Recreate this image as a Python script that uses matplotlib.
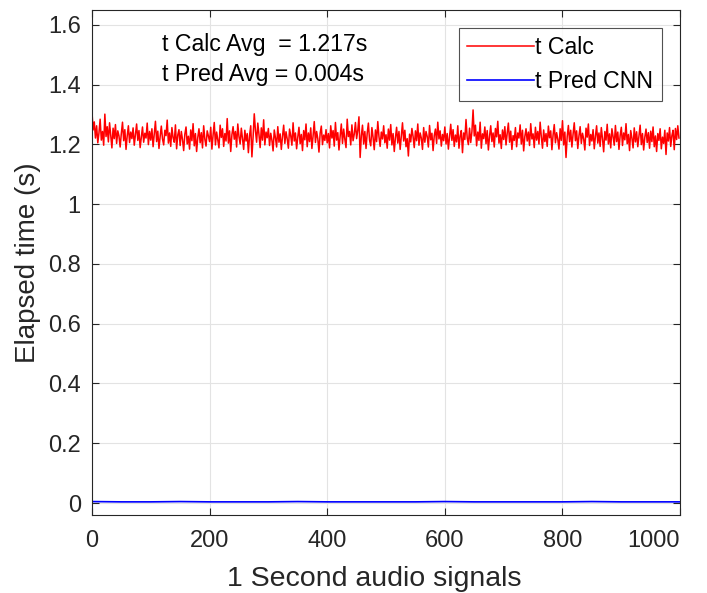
import numpy as np
import matplotlib
matplotlib.use('Agg')
import matplotlib.pyplot as plt

plt.rcParams['font.family'] = ['Liberation Sans', 'DejaVu Sans']

# t Calc (s), one reading every 2 signals
t_calc = [
    1.312, 1.248, 1.275, 1.221, 1.262, 1.205, 1.238, 1.284, 1.214, 1.243, 1.197, 1.301, 1.226, 1.259, 1.208, 1.272, 1.231, 1.188, 1.254, 1.219, 1.266, 1.203, 1.245, 1.228, 1.191,
    1.236, 1.274, 1.212, 1.249, 1.183, 1.228, 1.262, 1.206, 1.241, 1.219, 1.255, 1.197, 1.232, 1.268, 1.213, 1.246, 1.189, 1.225, 1.258, 1.207, 1.237, 1.221, 1.271, 1.199, 1.243,
    1.214, 1.252, 1.192, 1.233, 1.277, 1.209, 1.244, 1.186, 1.226, 1.261, 1.218, 1.198, 1.247, 1.229, 1.281, 1.204, 1.238, 1.193, 1.256, 1.222, 1.207, 1.265, 1.185, 1.231, 1.249,
    1.196, 1.243, 1.216, 1.179, 1.234, 1.258, 1.201, 1.227, 1.184, 1.248, 1.212, 1.269, 1.195, 1.236, 1.176, 1.223, 1.252, 1.205, 1.239, 1.188, 1.262, 1.217, 1.194, 1.245, 1.228,
    1.209, 1.257, 1.184, 1.231, 1.273, 1.198, 1.241, 1.215, 1.188, 1.264, 1.223, 1.252, 1.193, 1.236, 1.211, 1.286, 1.204, 1.245, 1.176, 1.232, 1.259, 1.217, 1.243, 1.191, 1.268,
    1.226, 1.201, 1.254, 1.218, 1.183, 1.247, 1.211, 1.236, 1.172, 1.229, 1.262, 1.158, 1.224, 1.302, 1.246, 1.207, 1.271, 1.233, 1.189, 1.255, 1.214, 1.282, 1.198, 1.241, 1.222,
    1.253, 1.196, 1.237, 1.214, 1.178, 1.248, 1.222, 1.191, 1.259, 1.207, 1.235, 1.183, 1.226, 1.264, 1.203, 1.242, 1.218, 1.187, 1.251, 1.229, 1.197, 1.272, 1.211, 1.238, 1.185,
    1.224, 1.257, 1.202, 1.233, 1.179, 1.246, 1.215, 1.268, 1.192, 1.238, 1.209, 1.255, 1.186, 1.228, 1.276, 1.206, 1.243, 1.219, 1.174, 1.237, 1.261, 1.199, 1.231, 1.213, 1.249,
    1.205, 1.236, 1.188, 1.262, 1.221, 1.246, 1.194, 1.273, 1.214, 1.239, 1.181, 1.227, 1.268, 1.203, 1.251, 1.217, 1.189, 1.284, 1.226, 1.243, 1.198, 1.265, 1.212, 1.234, 1.273,
    1.219, 1.247, 1.292, 1.156, 1.228, 1.264, 1.201, 1.243, 1.186, 1.237, 1.271, 1.214, 1.195, 1.256, 1.223, 1.182, 1.248, 1.209, 1.276, 1.226, 1.193, 1.241, 1.218, 1.262, 1.205,
    1.232, 1.187, 1.251, 1.214, 1.266, 1.198, 1.236, 1.176, 1.222, 1.257, 1.204, 1.243, 1.183, 1.229, 1.272, 1.211, 1.247, 1.192, 1.219, 1.161, 1.234, 1.208, 1.253, 1.226, 1.189,
    1.245, 1.212, 1.268, 1.197, 1.238, 1.221, 1.183, 1.256, 1.207, 1.243, 1.226, 1.191, 1.263, 1.215, 1.237, 1.179, 1.229, 1.251, 1.203, 1.274, 1.218, 1.245, 1.194, 1.233, 1.212,
    1.258, 1.201, 1.236, 1.184, 1.224, 1.267, 1.213, 1.249, 1.193, 1.231, 1.208, 1.262, 1.187, 1.227, 1.246, 1.172, 1.238, 1.216, 1.283, 1.221, 1.199, 1.254, 1.206, 1.242, 1.315,
    1.228, 1.264, 1.195, 1.241, 1.213, 1.274, 1.187, 1.235, 1.219, 1.258, 1.202, 1.246, 1.181, 1.227, 1.262, 1.209, 1.238, 1.191, 1.253, 1.225, 1.277, 1.204, 1.232, 1.186, 1.248,
    1.216, 1.259, 1.198, 1.237, 1.271, 1.207, 1.244, 1.183, 1.229, 1.213, 1.256, 1.192, 1.238, 1.221, 1.265, 1.201, 1.247, 1.178, 1.226, 1.252, 1.211, 1.241, 1.196, 1.269, 1.218,
    1.235, 1.189, 1.257, 1.214, 1.243, 1.201, 1.274, 1.225, 1.187, 1.248, 1.209, 1.236, 1.193, 1.261, 1.222, 1.245, 1.182, 1.231, 1.266, 1.205, 1.239, 1.217, 1.184, 1.252, 1.213,
    1.279, 1.198, 1.241, 1.156, 1.226, 1.263, 1.209, 1.247, 1.191, 1.234, 1.272, 1.212, 1.245, 1.186, 1.228, 1.259, 1.203, 1.237, 1.218, 1.181, 1.254, 1.224, 1.268, 1.196, 1.233,
    1.211, 1.249, 1.185, 1.227, 1.262, 1.204, 1.238, 1.193, 1.256, 1.219, 1.175, 1.243, 1.214, 1.267, 1.201, 1.235, 1.188, 1.252, 1.226, 1.197, 1.263, 1.209, 1.241, 1.183, 1.229,
    1.257, 1.196, 1.238, 1.215, 1.269, 1.202, 1.233, 1.179, 1.246, 1.221, 1.188, 1.255, 1.208, 1.242, 1.192, 1.227, 1.264, 1.199, 1.236, 1.181, 1.224, 1.251, 1.206, 1.239, 1.187,
    1.244, 1.209, 1.258, 1.192, 1.228, 1.176, 1.236, 1.213, 1.252, 1.185, 1.224, 1.203, 1.247, 1.166, 1.238, 1.211, 1.256, 1.193, 1.229, 1.247, 1.182, 1.253, 1.216, 1.262, 1.221,
]
calc_x = np.arange(0, 1000, 2)

# t Pred CNN (s), every 50 signals
t_pred = [0.005, 0.004, 0.004, 0.005, 0.004, 0.004, 0.004, 0.005, 0.004, 0.004, 0.004,
          0.004, 0.005, 0.004, 0.004, 0.004, 0.004, 0.005, 0.004, 0.004, 0.004]
pred_x = np.arange(0, 1001, 50)

calc_avg = 1.217
pred_avg = 0.004

x_ticks = [0, 200, 400, 600, 800, 1000]
y_ticks = [0, 0.2, 0.4, 0.6, 0.8, 1, 1.2, 1.4, 1.6]
y_labels = ['0', '0.2', '0.4', '0.6', '0.8', '1', '1.2', '1.4', '1.6']

TXT = '#262626'
fig = plt.figure(figsize=(7.07, 5.93), dpi=100)
ax = fig.add_axes([0.130, 0.1315, 0.832, 0.852])

ax.plot(calc_x, t_calc, color='#ff0000', lw=1.1, label='t Calc')
ax.plot(pred_x, t_pred, color='#0000ff', lw=1.2, label='t Pred CNN')

ax.set_xlim(0, 1000)
ax.set_ylim(-0.04, 1.65)
ax.set_xticks(x_ticks)
ax.set_yticks(y_ticks)
ax.set_yticklabels(y_labels)
ax.grid(True, color='#e3e3e3', lw=0.8)
ax.set_axisbelow(True)
ax.tick_params(direction='in', top=True, right=True, labelsize=17,
               colors=TXT, length=5, width=0.8)
ax.tick_params(axis='x', pad=11)
ax.tick_params(axis='y', pad=8)
ax.get_xticklabels()[-1].set_ha('right')
for s in ax.spines.values():
    s.set_color(TXT)
    s.set_linewidth(0.8)

ax.set_xlabel('1 Second audio signals', fontsize=20.5, color=TXT, labelpad=8)
ax.xaxis.set_label_coords(0.48, -0.1)
ax.xaxis.label.set_va('top')
ax.set_ylabel('Elapsed time (s)', fontsize=20, color=TXT, labelpad=5)

ax.text(0.12, 0.932, 't Calc Avg  = {:.3f}s'.format(calc_avg), transform=ax.transAxes,
        fontsize=16.7, color='k', va='center')
ax.text(0.12, 0.871, 't Pred Avg = {:.3f}s'.format(pred_avg), transform=ax.transAxes,
        fontsize=16.7, color='k', va='center')

leg = ax.legend(loc='upper right', fontsize=16.7, frameon=True, fancybox=False,
                edgecolor=TXT, handlelength=2.9, handletextpad=0.05,
                borderaxespad=0.8, labelspacing=0.45, borderpad=0.35)
leg.get_frame().set_linewidth(0.8)

fig.savefig('out.png', dpi=100)
